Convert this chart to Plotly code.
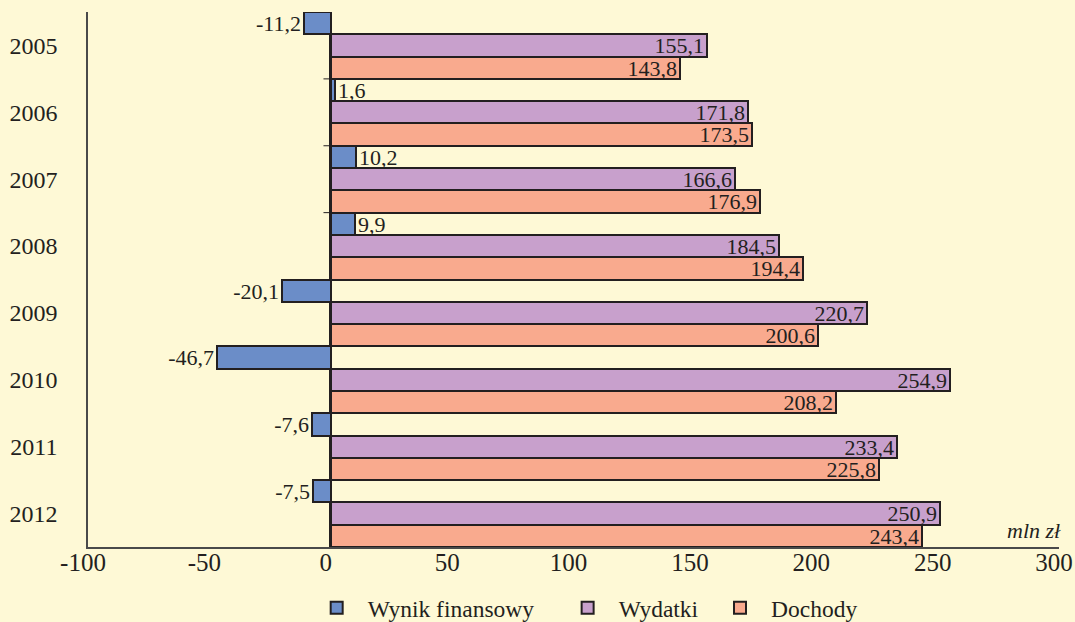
import plotly.graph_objects as go

years = ["2005", "2006", "2007", "2008", "2009", "2010", "2011", "2012"]
wynik = [-11.2, 1.6, 10.2, 9.9, -20.1, -46.7, -7.6, -7.5]
wydatki = [155.1, 171.8, 166.6, 184.5, 220.7, 254.9, 233.4, 250.9]
dochody = [143.8, 173.5, 176.9, 194.4, 200.6, 208.2, 225.8, 243.4]
x_ticks = [-100, -50, 0, 50, 100, 150, 200, 250, 300]

BG = "#FEF9D6"
INK = "#231F20"
FONT = "Liberation Serif"
NB = "\u00a0"


def fmt(v):
    return f"{v:.1f}".replace(".", ",")


series = [
    ("Wynik finansowy", NB * 3, wynik, "#6B8DC8", "outside"),
    ("Wydatki", NB * 1, wydatki, "#C8A0CC", "inside"),
    ("Dochody", "", dochody, "#F9AA8E", "inside"),
]

fig = go.Figure()
for name, pad, vals, color, pos in series:
    fig.add_trace(go.Bar(
        y=years, x=vals, name=name + pad, orientation="h",
        marker=dict(color=color, line=dict(color=INK, width=2)),
        text=[fmt(v) for v in vals], textposition=pos,
        insidetextanchor="end", constraintext="none", cliponaxis=False,
        textfont=dict(family=FONT, size=22, color=INK),
    ))

shapes = []
for i in range(len(years) - 1):
    shapes.append(dict(type="line", xref="x", yref="y", x0=-3, x1=0,
                       y0=i + 0.5, y1=i + 0.5, line=dict(color=INK, width=1)))

fig.update_layout(
    width=1075, height=622,
    paper_bgcolor=BG, plot_bgcolor=BG,
    margin=dict(l=88, r=16, t=12, b=75, autoexpand=False),
    barmode="group", bargap=0, bargroupgap=0,
    font=dict(family=FONT, color=INK),
    showlegend=True,
    legend=dict(orientation="h", x=0.511, xanchor="center", y=-0.114, yanchor="middle",
                traceorder="normal", font=dict(family=FONT, size=23.5, color=INK),
                bgcolor="rgba(0,0,0,0)", itemwidth=52),
    xaxis=dict(range=[-100, 300], tickvals=x_ticks, ticktext=[str(t) for t in x_ticks],
               showgrid=False, zeroline=True, zerolinecolor=INK, zerolinewidth=2.5,
               showline=True, linecolor="#4a4a4a", linewidth=1.5, ticks="", ticklen=0,
               automargin=False, ticklabeloverflow="allow", ticklabelshift=-5,
               ticklabelstandoff=-8,
               tickfont=dict(family=FONT, size=25, color=INK)),
    yaxis=dict(autorange="reversed", showgrid=False, showline=True, linecolor="#4a4a4a",
               linewidth=1.5, ticks="", ticklen=0, ticklabelstandoff=24, automargin=False,
               tickfont=dict(family=FONT, size=24, color=INK)),
    shapes=shapes,
    annotations=[dict(text="mln zł", xref="paper", yref="paper", x=1.0, y=0.0,
                      xanchor="right", yanchor="bottom", showarrow=False, yshift=2, xshift=4,
                      font=dict(family=FONT, size=22, color=INK, style="italic"))],
)

fig.write_html(
    "out.html",
    config={"displayModeBar": False},
    post_script="document.body.style.margin='0';document.body.style.background='" + BG + "';",
)
